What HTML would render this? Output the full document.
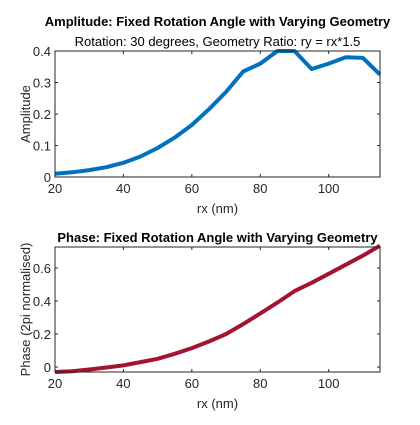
<!DOCTYPE html>
<html><head><meta charset="utf-8"><style>
body{margin:0;background:#fff;width:420px;height:420px;overflow:hidden}
svg{font-family:"Liberation Sans",Arial,sans-serif}
</style></head><body>
<svg id="c" width="420" height="420"></svg>
<script>
const rx=[20,25,30,35,40,45,50,55,60,65,70,75,80,85,90,95,100,105,110,115];
const amplitude=[0.01,0.015,0.022,0.031,0.045,0.065,0.092,0.125,0.165,0.215,0.27,0.335,0.36,0.4,0.4,0.343,0.36,0.38,0.378,0.325];
const phase=[-0.03,-0.025,-0.015,-0.003,0.01,0.03,0.05,0.08,0.115,0.155,0.2,0.26,0.325,0.39,0.46,0.51,0.565,0.62,0.675,0.735];
const xTicks=[20,40,60,80,100];
const ampTicks=[0,0.1,0.2,0.3,0.4];
const phaseTicks=[0,0.2,0.4,0.6];
const NS="http://www.w3.org/2000/svg";
const svg=document.getElementById('c');
function mk(t,a,p){const e=document.createElementNS(NS,t);for(const k in a)e.setAttribute(k,a[k]);(p||svg).appendChild(e);return e;}
function panel(o){
  const g=mk('g',{});
  
  
  const X=v=>o.l+(v-20)/(115-20)*(o.r-o.l);
  const Y=v=>o.b-(v-o.y0)/(o.y1-o.y0)*(o.b-o.t);
  mk('rect',{x:o.l,y:o.t,width:o.r-o.l,height:o.b-o.t,fill:'#fff'},g);
  const pts=rx.map((x,i)=>X(x).toFixed(1)+','+Y(o.vals[i]).toFixed(1)).join(' ');
  const ln=mk('polyline',{points:pts,fill:'none',stroke:o.color,'stroke-width':4,'stroke-linejoin':'round'},g);
  
  
  mk('rect',{x:o.l,y:o.t,width:o.r-o.l,height:o.b-o.t,fill:'none',stroke:'#262626','stroke-width':1},g);
  xTicks.forEach(v=>{const x=X(v);
    mk('line',{x1:x,x2:x,y1:o.b,y2:o.b-3,stroke:'#262626'},g);
    mk('line',{x1:x,x2:x,y1:o.t,y2:o.t+3,stroke:'#262626'},g);
    const t=mk('text',{x:x,y:o.b+16,'text-anchor':'middle','font-size':13,fill:'#262626'},g);t.textContent=v;
    });
  o.ticks.forEach(v=>{const y=Y(v);
    mk('line',{x1:o.l,x2:o.l+3,y1:y,y2:y,stroke:'#262626'},g);
    mk('line',{x1:o.r,x2:o.r-3,y1:y,y2:y,stroke:'#262626'},g);
    const t=mk('text',{x:o.l-4,y:y+5,'text-anchor':'end','font-size':13,fill:'#262626'},g);t.textContent=v;
    });
  const xl=mk('text',{x:(o.l+o.r)/2,y:o.b+36,'text-anchor':'middle','font-size':13,fill:'#262626'},g);xl.textContent='rx (nm)';
  
  const yl=mk('text',{x:0,y:0,transform:`translate(${o.ylx},${(o.t+o.b)/2}) rotate(-90)`,'text-anchor':'middle','font-size':13,fill:'#262626'},g);yl.textContent=o.ylabel;
  
  const tt=mk('text',{x:(o.l+o.r)/2,y:o.titleY,'text-anchor':'middle','font-size':13,'font-weight':'bold',fill:'#000'},g);tt.textContent=o.title;
  
  if(o.sub){const s=mk('text',{x:(o.l+o.r)/2,y:o.t-5,'text-anchor':'middle','font-size':13,fill:'#000'},g);s.textContent=o.sub;
    }
}
panel({name:'amplitude-panel',l:55,r:380,t:51,b:177,y0:0,y1:0.4,vals:amplitude,ticks:ampTicks,color:'#0072BD',
  ylabel:'Amplitude',ylx:30,title:'Amplitude: Fixed Rotation Angle with Varying Geometry',titleY:26,sub:'Rotation: 30 degrees, Geometry Ratio: ry = rx*1.5'});
panel({name:'phase-panel',l:55,r:380,t:247,b:372,y0:-0.03,y1:0.727,vals:phase,ticks:phaseTicks,color:'#A2142F',
  ylabel:'Phase (2pi normalised)',ylx:30,title:'Phase: Fixed Rotation Angle with Varying Geometry',titleY:242});
</script>
</body></html>
